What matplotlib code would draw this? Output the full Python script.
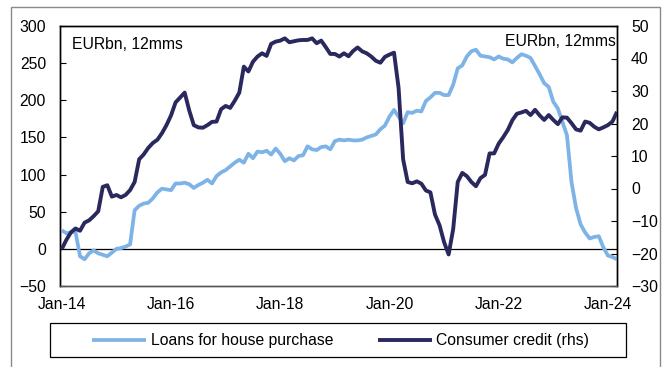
import matplotlib
matplotlib.use("Agg")
import matplotlib.pyplot as plt
from matplotlib.patches import Rectangle

plt.rcParams['font.family'] = ['Liberation Sans', 'DejaVu Sans']

# Monthly data Jan-2014 .. Mar-2024
loans = [25, 21, 22, 23, -10, -14, -6, -2, -6, -8, -10, -5,
         0, 1, 3, 6, 52, 58, 61, 62, 68, 76, 81, 80,
         79, 88, 88, 89, 87, 82, 86, 89, 93, 88, 98, 103,
         106, 111, 116, 120, 116, 128, 122, 131, 130, 132, 127, 135,
         128, 118, 122, 119, 125, 126, 138, 134, 133, 137, 138, 134,
         145, 147, 146, 147, 146, 146, 147, 150, 152, 154, 161, 166,
         178, 187, 178, 169, 184, 183, 186, 185, 199, 204, 210, 210,
         207, 207, 221, 243, 247, 259, 266, 268, 260, 259, 258, 255,
         259, 256, 255, 251, 257, 262, 260, 257, 246, 235, 223, 218,
         198, 189, 171, 153, 90, 55, 33, 22, 14, 16, 17, 2,
         -9, -11, -14]
consumer = [-18.6, -15.8, -13.5, -12.3, -13, -10.5, -9.8, -8.5, -7, 0.5, 1, -2.5,
            -2, -2.7, -2, -0.5, 2, 9, 10.5, 12.5, 14, 15, 17, 19.5,
            22.5, 26.5, 28, 29.5, 24, 19.5, 18.8, 18.7, 19.5, 20.5, 20.6, 24.4,
            25.4, 24.8, 27, 29.5, 37.5, 36, 39, 40.6, 41.6, 40.8, 44.5, 45.2,
            45.5, 46.2, 45, 45.3, 45.6, 45.7, 45.7, 46.2, 44.7, 45.5, 43.5, 41.4,
            41.4, 40.6, 41.6, 40.7, 42.3, 43.4, 42.2, 41.6, 40.6, 39.3, 38.7, 40.5,
            41.2, 41.8, 31, 9, 2, 1.6, 2.2, 1.5, -0.6, -1.2, -8, -11.3,
            -16.5, -20.3, -12.5, 2, 4.8, 3.8, 2, 0.7, 3.2, 4.2, 10.8, 10.8,
            13.8, 15.8, 18, 21, 23, 23.4, 23.9, 22.6, 24.2, 22.5, 21.1, 22.6,
            21.1, 19.8, 21.9, 21.8, 20.1, 18.2, 17.8, 20.6, 20.2, 19, 18.2, 18.8,
            19.5, 20.6, 23.6]
xtick_labels = ["Jan-14", "Jan-16", "Jan-18", "Jan-20", "Jan-22", "Jan-24"]
left_ticks = [-50, 0, 50, 100, 150, 200, 250, 300]
right_ticks = [-30, -20, -10, 0, 10, 20, 30, 40, 50]
series_names = ["Loans for house purchase", "Consumer credit (rhs)"]

LIGHT = "#7DB3E6"
DARK = "#2A295E"
FS = 11.3

W, H = 665, 367
fig = plt.figure(figsize=(W / 100, H / 100), dpi=100)
ax = fig.add_axes([60 / W, 1 - 286 / H, (617 - 60) / W, (286 - 26) / H])
ax2 = ax.twinx()

months = list(range(len(loans)))
l1, = ax.plot(months, loans, color=LIGHT, lw=2.7, solid_capstyle='butt', zorder=3)
l2, = ax2.plot(months, consumer, color=DARK, lw=2.8, solid_capstyle='butt', zorder=3)
ax.axhline(0, color='black', lw=0.9, zorder=2)

ax.set_xlim(-0.4, len(loans) - 1)
ax.set_ylim(-50, 300)
ax2.set_ylim(-30, 50)
ax.set_yticks(left_ticks)
ax2.set_yticks(right_ticks)
ax.set_xticks([0, 24, 48, 72, 96, 120])
ax.set_xticklabels(xtick_labels)

for a in (ax, ax2):
    a.tick_params(axis='y', direction='in', length=4, width=0.8, labelsize=FS, pad=10)
    for s in a.spines.values():
        s.set_linewidth(1.0)
        s.set_color('black')
    a.spines['bottom'].set_color('#555555')
ax.tick_params(axis='x', length=0, labelsize=FS, pad=8)

ax.text(0.021, (286 - 49) / 260, "EURbn, 12mms", transform=ax.transAxes, fontsize=FS,
        ha='left', va='baseline')
ax.text(0.9988, (286 - 45.7) / 260, "EURbn, 12mms", transform=ax.transAxes, fontsize=FS,
        ha='right', va='baseline')

# outer frame
fig.add_artist(Rectangle((11 / W, -0.02), (660 - 11) / W, 1.02 - 7 / H,
                         transform=fig.transFigure, fill=False,
                         edgecolor='#8a8a8a', lw=1.0))
# legend frame
fig.add_artist(Rectangle((49.5 / W, 1 - 357.3 / H), (625.7 - 49.5) / W, 34 / H,
                         transform=fig.transFigure, fill=False,
                         edgecolor='black', lw=0.9))
fig.legend([l1, l2], series_names, loc='center left',
           bbox_to_anchor=(92.3 / W, 1 - 340.5 / H), ncol=2, frameon=False,
           borderpad=0, borderaxespad=0,
           fontsize=FS, handlelength=3.45, handletextpad=0.3,
           columnspacing=2.8)

fig.savefig("out.png", dpi=100)
